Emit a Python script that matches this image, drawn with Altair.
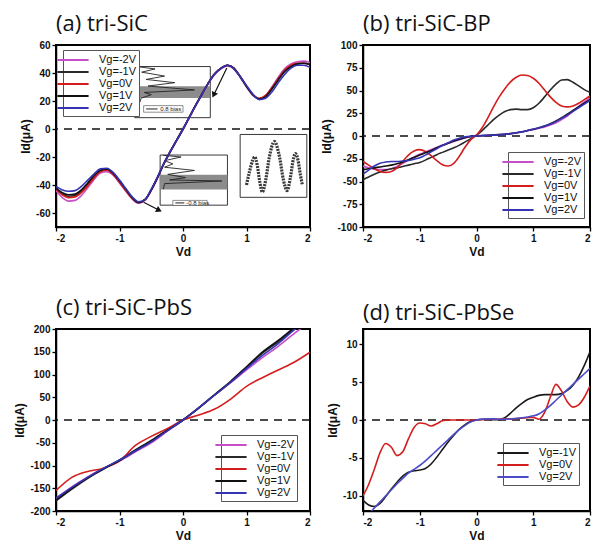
import altair as alt
import pandas as pd

# ---------------- labels / colours ----------------
VG_ALL = ["Vg=-2V", "Vg=-1V", "Vg=0V", "Vg=1V", "Vg=2V"]
COL_ALL = ["#c64ec6", "#2a2a2a", "#d41e1e", "#111111", "#3434b4"]
VG_D = ["Vg=-1V", "Vg=0V", "Vg=2V"]
COL_D = ["#1a1a1a", "#d41e1e", "#4c4cc8"]
X_TICKS = [-2, -1, 0, 1, 2]

XS = [-2.0, -1.9, -1.8, -1.7, -1.6, -1.5, -1.4, -1.3, -1.2, -1.1, -1.0,
      -0.9, -0.8, -0.7, -0.6, -0.5, -0.4, -0.3, -0.2, -0.1, 0.0,
      0.1, 0.2, 0.3, 0.4, 0.5, 0.6, 0.7, 0.8, 0.9, 1.0,
      1.1, 1.2, 1.3, 1.4, 1.5, 1.6, 1.7, 1.8, 1.9, 2.0]

# ---------------- (a) tri-SiC ----------------
A_M2 = [-44, -49, -51.5, -51, -47.5, -42, -36, -31.5, -30.5, -33, -38.5, -44.5, -50, -53, -51, -44, -35, -25, -16.5, -8.5,
        -0.5, 8, 16.5, 24.5, 32.5, 39, 43, 45, 43, 37, 30, 24, 21.5, 24, 30, 37, 43, 46.5, 48, 48.5, 47.5]
A_M1 = [-42, -46.5, -48, -47.5, -44.5, -39.5, -34, -30, -29, -32, -37.5, -43.5, -49.5, -52.5, -50.5, -43.5, -34.5, -24.5, -16, -8,
        0, 8.5, 17, 25, 33, 39.5, 43.5, 45.5, 43.5, 37.5, 30.5, 24.5, 21.5, 23.5, 29, 35.5, 41.5, 45, 46.5, 47, 46]
A_0 = [-43, -47, -49, -48.5, -45.5, -40.5, -35, -30.5, -29.5, -32.5, -38, -44, -49.5, -52.5, -50.5, -43.5, -34.5, -24.5, -16, -8,
       0, 8.5, 17, 25, 33, 39.5, 43.5, 45.5, 43.5, 37.5, 30.5, 24.5, 22, 24, 29.5, 36, 42, 45.5, 47, 47, 46]
A_P1 = [-42.5, -45.5, -47, -46.5, -43.5, -38.5, -33, -29.5, -28.5, -31.5, -37, -43, -49, -52.5, -50.5, -43.5, -34.5, -24.5, -16, -8,
        0, 8.5, 17, 25, 33, 39.5, 43.5, 45.5, 43.5, 37.5, 30.5, 24.5, 21.5, 23, 28.5, 35, 41, 44.5, 46.5, 47, 46]
A_P2 = [-41, -43.5, -44.5, -44, -41, -36.5, -32, -28.5, -28, -31, -36.5, -42.5, -48.5, -52, -50.5, -43, -34, -24.5, -16, -8,
        0, 8.5, 17, 25, 33, 39.5, 43.5, 45.5, 43, 37.5, 31, 25, 21, 22, 26.5, 33, 39, 43.5, 45.5, 45.5, 44]

# insets of panel (a), in the panel's own data units
INSET_BOX_X = [-0.76, -0.36, 0.90]
INSET_BOX_X2 = [0.43, 0.70, 1.95]
INSET_BOX_Y = [44.6, -18.6, -3.9]
INSET_BOX_Y2 = [8.1, -54.4, -48.8]
BAND_X = [-0.76, -0.36]
BAND_X2 = [0.43, 0.70]
BAND_Y = [30.5, -32.6]
BAND_Y2 = [22.1, -43.2]
TRACE1_X = [-0.68, -0.44, -0.65, -0.29, -0.58, -0.13, -0.55, 0.18, -0.61, -0.50, -0.66, -0.68]
TRACE1_Y = [44.3, 42.9, 40.6, 37.8, 35.4, 33.1, 30.7, 27.9, 26.1, 24.5, 22.0, 19.0]
TRACE2_X = [-0.31, -0.03, -0.29, -0.16, -0.29, 0.18, -0.24, 0.04, -0.21, 0.61, -0.29, -0.31]
TRACE2_Y = [-18.8, -20.0, -22.6, -24.9, -27.3, -29.6, -32.4, -34.7, -36.4, -37.1, -39.0, -43.0]
WAVE_X = [1.00, 1.05, 1.10, 1.13, 1.17, 1.21, 1.25, 1.30, 1.36, 1.44, 1.52, 1.58, 1.64, 1.69, 1.74, 1.77, 1.81, 1.85, 1.88]
WAVE_Y = [-40, -30, -22, -20, -26, -38, -45, -37, -20, -9, -20, -36, -44, -35, -21, -17.5, -22, -33, -40]
BIAS_BOX_X = [-0.62, -0.16]
BIAS_BOX_X2 = [0.0, 0.38]
BIAS_BOX_Y = [16.7, -51.0]
BIAS_BOX_Y2 = [12.0, -54.6]
BIAS_LINE_X = [-0.58, -0.12]
BIAS_LINE_X2 = [-0.40, 0.02]
BIAS_LINE_Y = [14.3, -52.8]
BIAS_TEXT = ["0.8 bias", "-0.8 bias"]
BIAS_TEXT_X = [-0.36, 0.05]
ARROW_X = [0.69, -0.62]
ARROW_Y = [43.6, -52.3]
ARROW_X2 = [0.49, -0.39]
ARROW_Y2 = [24.9, -57.7]
ARROW_ANGLE = [206, 117]

# ---------------- (b) tri-SiC-BP ----------------
B_M2 = [-33, -35, -36.5, -37, -37, -36, -33.5, -30, -26.5, -23, -20, -17.5, -15, -12.5, -10, -8, -6, -4, -2, -0.8,
        0, 0.5, 0.8, 1.2, 1.6, 2, 2.6, 3.5, 4.5, 5.8, 7, 8.5, 10, 12, 14.5, 18, 22, 27, 32.5, 37.5, 42]
B_M1 = [-48, -45, -42, -39.5, -37.5, -36, -35, -33.5, -32, -30.5, -29, -26.5, -23.5, -20.5, -18, -15.5, -13, -10, -6.5, -3,
        1, 6, 12, 18, 23, 27, 29, 29.5, 29, 29, 31, 36, 43, 50.5, 57, 61.5, 62, 59, 55, 51, 48]
B_0 = [-28, -32, -36, -39, -40, -39, -35, -28, -21, -16.5, -15, -17, -21.5, -27, -31.5, -33, -30, -22, -12, -4,
       1, 9, 20, 32, 43, 52, 59.5, 64.5, 67, 66.5, 63.5, 58, 50.5, 43, 37, 33, 32, 33, 36, 40, 44]
B_P1 = [-37, -36, -35, -34, -33, -32, -30.5, -28.5, -26, -23.5, -21, -18.5, -16, -13, -10.5, -8, -5.5, -3.5, -1.8, -0.6,
        0, 0.4, 0.7, 1.1, 1.5, 2, 2.6, 3.5, 4.6, 6, 7.5, 9, 11, 13.5, 16.5, 20, 24, 28, 32, 36, 40]
B_P2 = [-42, -37.5, -33, -30, -28.5, -28, -28, -27.5, -27, -25.5, -24, -21, -17.5, -14, -10.5, -7.5, -4.5, -2.5, -1, -0.3,
        0, 0.3, 0.6, 1, 1.3, 1.8, 2.5, 3.5, 4.5, 6, 7.5, 9, 11, 13, 16, 19.5, 23, 27, 31, 35, 39]

# ---------------- (c) tri-SiC-PbS ----------------
XC = [-2, -1.75, -1.5, -1.25, -1, -0.75, -0.5, -0.25, 0, 0.25, 0.5, 0.75, 1, 1.25, 1.5, 1.75, 2]
C_M2 = [-172, -147, -125, -106, -90, -70, -50, -25, 0, 27, 55, 82, 110, 137, 162, 190, 215]
C_M1 = [-178, -152, -128, -108, -88, -66, -45, -22, 0, 26, 55, 83, 115, 147, 172, 200, 228]
C_0 = [-155, -126, -113, -106, -90, -56, -36, -19, 0, 11, 24, 46, 74, 93, 110, 127, 149]
C_P1 = [-176, -150, -127, -107, -89, -67, -46, -23, 0, 27, 56, 85, 117, 149, 175, 203, 230]
C_P2 = [-172, -148, -126, -106, -88, -68, -48, -24, 0, 27, 55, 83, 113, 142, 168, 198, 225]

# ---------------- (d) tri-SiC-PbSe ----------------
D_M1 = [-10.6, -11.2, -11.4, -11.0, -10.1, -9.1, -8.2, -7.4, -6.9, -6.7, -6.6, -6.4, -5.8, -4.9, -3.9, -2.9, -2.0, -1.2, -0.6, -0.2,
        0, 0.1, 0.1, 0.05, 0.05, 0.3, 0.9, 1.6, 2.2, 2.7, 3.0, 3.25, 3.35, 3.35, 3.35, 3.5, 3.9, 4.6, 5.7, 7.2, 9.0]
D_0 = [-10, -8.5, -6.5, -4.3, -3.1, -3.6, -4.7, -4.2, -2.5, -1.0, -0.4, -0.5, -0.8, -0.5, -0.1, 0, 0, 0, 0, 0,
       0, 0.05, 0.1, 0.1, 0.1, 0.12, 0.15, 0.2, 0.25, 0.3, 0.35, 0.1, 1.0, 3.0, 4.7, 3.8, 2.4, 1.7, 2.0, 3.0, 4.5]
D_P2 = [-13, -12.4, -11.6, -10.8, -10.0, -9.2, -8.4, -7.7, -7.0, -6.5, -6.0, -5.4, -4.7, -4.0, -3.3, -2.6, -1.9, -1.25, -0.7, -0.25,
        0, 0.1, 0.15, 0.15, 0.1, 0.1, 0.15, 0.2, 0.3, 0.4, 0.55, 0.8, 1.3, 1.9, 2.6, 3.3, 4.0, 4.7, 5.4, 6.1, 6.8]

FONT = "Liberation Sans"
LINE_SYMBOL = "M-2.6,0H2.6"


def series_df(xs, names, ys_list):
    rows = []
    for name, ys in zip(names, ys_list):
        for x, y in zip(xs, ys):
            rows.append({"Vd": x, "Id": y, "Vg": name})
    return pd.DataFrame(rows)


def make_panel(title, df, names, colors, ydom, yticks, lx, ly, width, height, extra=()):
    xs = alt.Scale(domain=[-2, 2], nice=False, zero=False)
    ys = alt.Scale(domain=ydom, nice=False, zero=False)
    xax = alt.Axis(values=X_TICKS, labelExpr="'' + datum.value", title="Vd")
    yax = alt.Axis(values=yticks, labelExpr="'' + datum.value", title="Id(μA)")
    X = alt.X("Vd:Q", scale=xs, axis=xax, title="Vd")
    Y = alt.Y("Id:Q", scale=ys, axis=yax, title="Id(μA)")
    zero = alt.Chart(pd.DataFrame({"Id": [0]})).mark_rule(
        color="#111", strokeDash=[8, 6], strokeWidth=1.4
    ).encode(y=Y)
    lines = alt.Chart(df).mark_line(strokeWidth=1.6, interpolate="monotone", clip=True).encode(
        x=X, y=Y,
        color=alt.Color("Vg:N", sort=names,
                        scale=alt.Scale(domain=names, range=colors),
                        legend=alt.Legend(title=None, orient="none", legendX=lx, legendY=ly,
                                          symbolType=LINE_SYMBOL, symbolSize=144, symbolStrokeWidth=2,
                                          labelFont=FONT, labelFontSize=11, labelColor="#111",
                                          labelOffset=19, rowPadding=0, padding=3,
                                          strokeColor="#555", fillColor="white")),
    )
    layers = [zero] + [e(X, Y) for e in extra] + [lines]
    return alt.layer(*layers).properties(
        width=width, height=height,
        title=alt.TitleParams(text=title, anchor="start", frame="group", font="Open Sans",
                              fontSize=22, fontWeight="normal", color="#111", offset=4),
    )


# ---- inset layers for panel (a) ----
def inset_boxes(X, Y):
    d = pd.DataFrame({"Vd": INSET_BOX_X, "Vd2": INSET_BOX_X2, "Id": INSET_BOX_Y, "Id2": INSET_BOX_Y2})
    return alt.Chart(d).mark_rect(fill="white", stroke="#222", strokeWidth=0.9).encode(
        x=X, x2="Vd2:Q", y=Y, y2="Id2:Q")


def inset_bands(X, Y):
    d = pd.DataFrame({"Vd": BAND_X, "Vd2": BAND_X2, "Id": BAND_Y, "Id2": BAND_Y2})
    return alt.Chart(d).mark_rect(fill="#8c8c8c").encode(x=X, x2="Vd2:Q", y=Y, y2="Id2:Q")


def inset_traces(X, Y):
    rows = []
    for k, (x, y) in enumerate(zip(TRACE1_X, TRACE1_Y)):
        rows.append({"Vd": x, "Id": y, "k": k, "t": "t1"})
    for k, (x, y) in enumerate(zip(TRACE2_X, TRACE2_Y)):
        rows.append({"Vd": x, "Id": y, "k": k, "t": "t2"})
    d = pd.DataFrame(rows)
    return alt.Chart(d).mark_line(color="#222", strokeWidth=0.9).encode(
        x=X, y=Y, detail="t:N", order="k:Q")


def inset_wave(X, Y):
    d = pd.DataFrame({"Vd": WAVE_X, "Id": WAVE_Y})
    return alt.Chart(d).mark_line(color="#3a3a3a", strokeWidth=3.2, strokeDash=[2, 1],
                                  interpolate="monotone").encode(x=X, y=Y)


def bias_boxes(X, Y):
    d = pd.DataFrame({"Vd": BIAS_BOX_X, "Vd2": BIAS_BOX_X2, "Id": BIAS_BOX_Y, "Id2": BIAS_BOX_Y2})
    return alt.Chart(d).mark_rect(fill="white", stroke="#444", strokeWidth=0.6).encode(
        x=X, x2="Vd2:Q", y=Y, y2="Id2:Q")


def bias_lines(X, Y):
    d = pd.DataFrame({"Vd": BIAS_LINE_X, "Vd2": BIAS_LINE_X2, "Id": BIAS_LINE_Y})
    return alt.Chart(d).mark_rule(color="#222", strokeWidth=1).encode(x=X, x2="Vd2:Q", y=Y)


def bias_text(X, Y):
    d = pd.DataFrame({"Vd": BIAS_TEXT_X, "Id": BIAS_LINE_Y, "txt": BIAS_TEXT})
    return alt.Chart(d).mark_text(align="left", baseline="middle", fontSize=6, font=FONT,
                                  color="#222").encode(x=X, y=Y, text="txt:N")


def arrows(X, Y):
    d = pd.DataFrame({"Vd": ARROW_X, "Vd2": ARROW_X2, "Id": ARROW_Y, "Id2": ARROW_Y2})
    return alt.Chart(d).mark_rule(color="#111", strokeWidth=1.2).encode(x=X, x2="Vd2:Q", y=Y, y2="Id2:Q")


def arrow_heads(X, Y):
    d = pd.DataFrame({"Vd": ARROW_X2, "Id": ARROW_Y2, "ang": ARROW_ANGLE})
    return alt.Chart(d).mark_point(shape="triangle", filled=True, color="#111", size=45, opacity=1).encode(
        x=X, y=Y, angle=alt.Angle("ang:Q", scale=None))


W1, W2, H = 254, 227, 182

pa = make_panel("(a) tri-SiC", series_df(XS, VG_ALL, [A_M2, A_M1, A_0, A_P1, A_P2]),
                VG_ALL, COL_ALL, [-70, 60], [-60, -40, -20, 0, 20, 40, 60], 7, 5, W1, H,
                extra=(inset_boxes, inset_bands, inset_traces, inset_wave, bias_boxes,
                       bias_lines, bias_text, arrows, arrow_heads))
pb = make_panel("(b) tri-SiC-BP", series_df(XS, VG_ALL, [B_M2, B_M1, B_0, B_P1, B_P2]),
                VG_ALL, COL_ALL, [-100, 100], [-100, -75, -50, -25, 0, 25, 50, 75, 100], W2 - 82, H - 75, W2, H)
pc = make_panel("(c) tri-SiC-PbS", series_df(XC, VG_ALL, [C_M2, C_M1, C_0, C_P1, C_P2]),
                VG_ALL, COL_ALL, [-200, 200], [-200, -150, -100, -50, 0, 50, 100, 150, 200], W1 - 89, H - 76, W1, H)
pdd = make_panel("(d) tri-SiC-PbSe", series_df(XS, VG_D, [D_M1, D_0, D_P2]),
                 VG_D, COL_D, [-12, 12], [-10, -5, 0, 5, 10], W2 - 87, H - 68, W2, H)

chart = alt.concat(pa, pb, pc, pdd, columns=2, spacing={"row": 38, "column": 7}).resolve_scale(
    x="independent", y="independent", color="independent"
).configure_view(
    stroke="black", strokeWidth=2
).configure_axis(
    grid=False, domainColor="black", domainWidth=1.5, tickColor="black", tickWidth=1.3, tickSize=4,
    labelFont=FONT, labelFontWeight="bold", labelFontSize=10, labelColor="#111", labelPadding=2,
    titleFont=FONT, titleFontWeight="bold", titleFontSize=12, titleColor="#111", titlePadding=3,
).properties(background="white", padding=4)

chart.save("out.html", embed_options={"renderer": "svg", "actions": False})
